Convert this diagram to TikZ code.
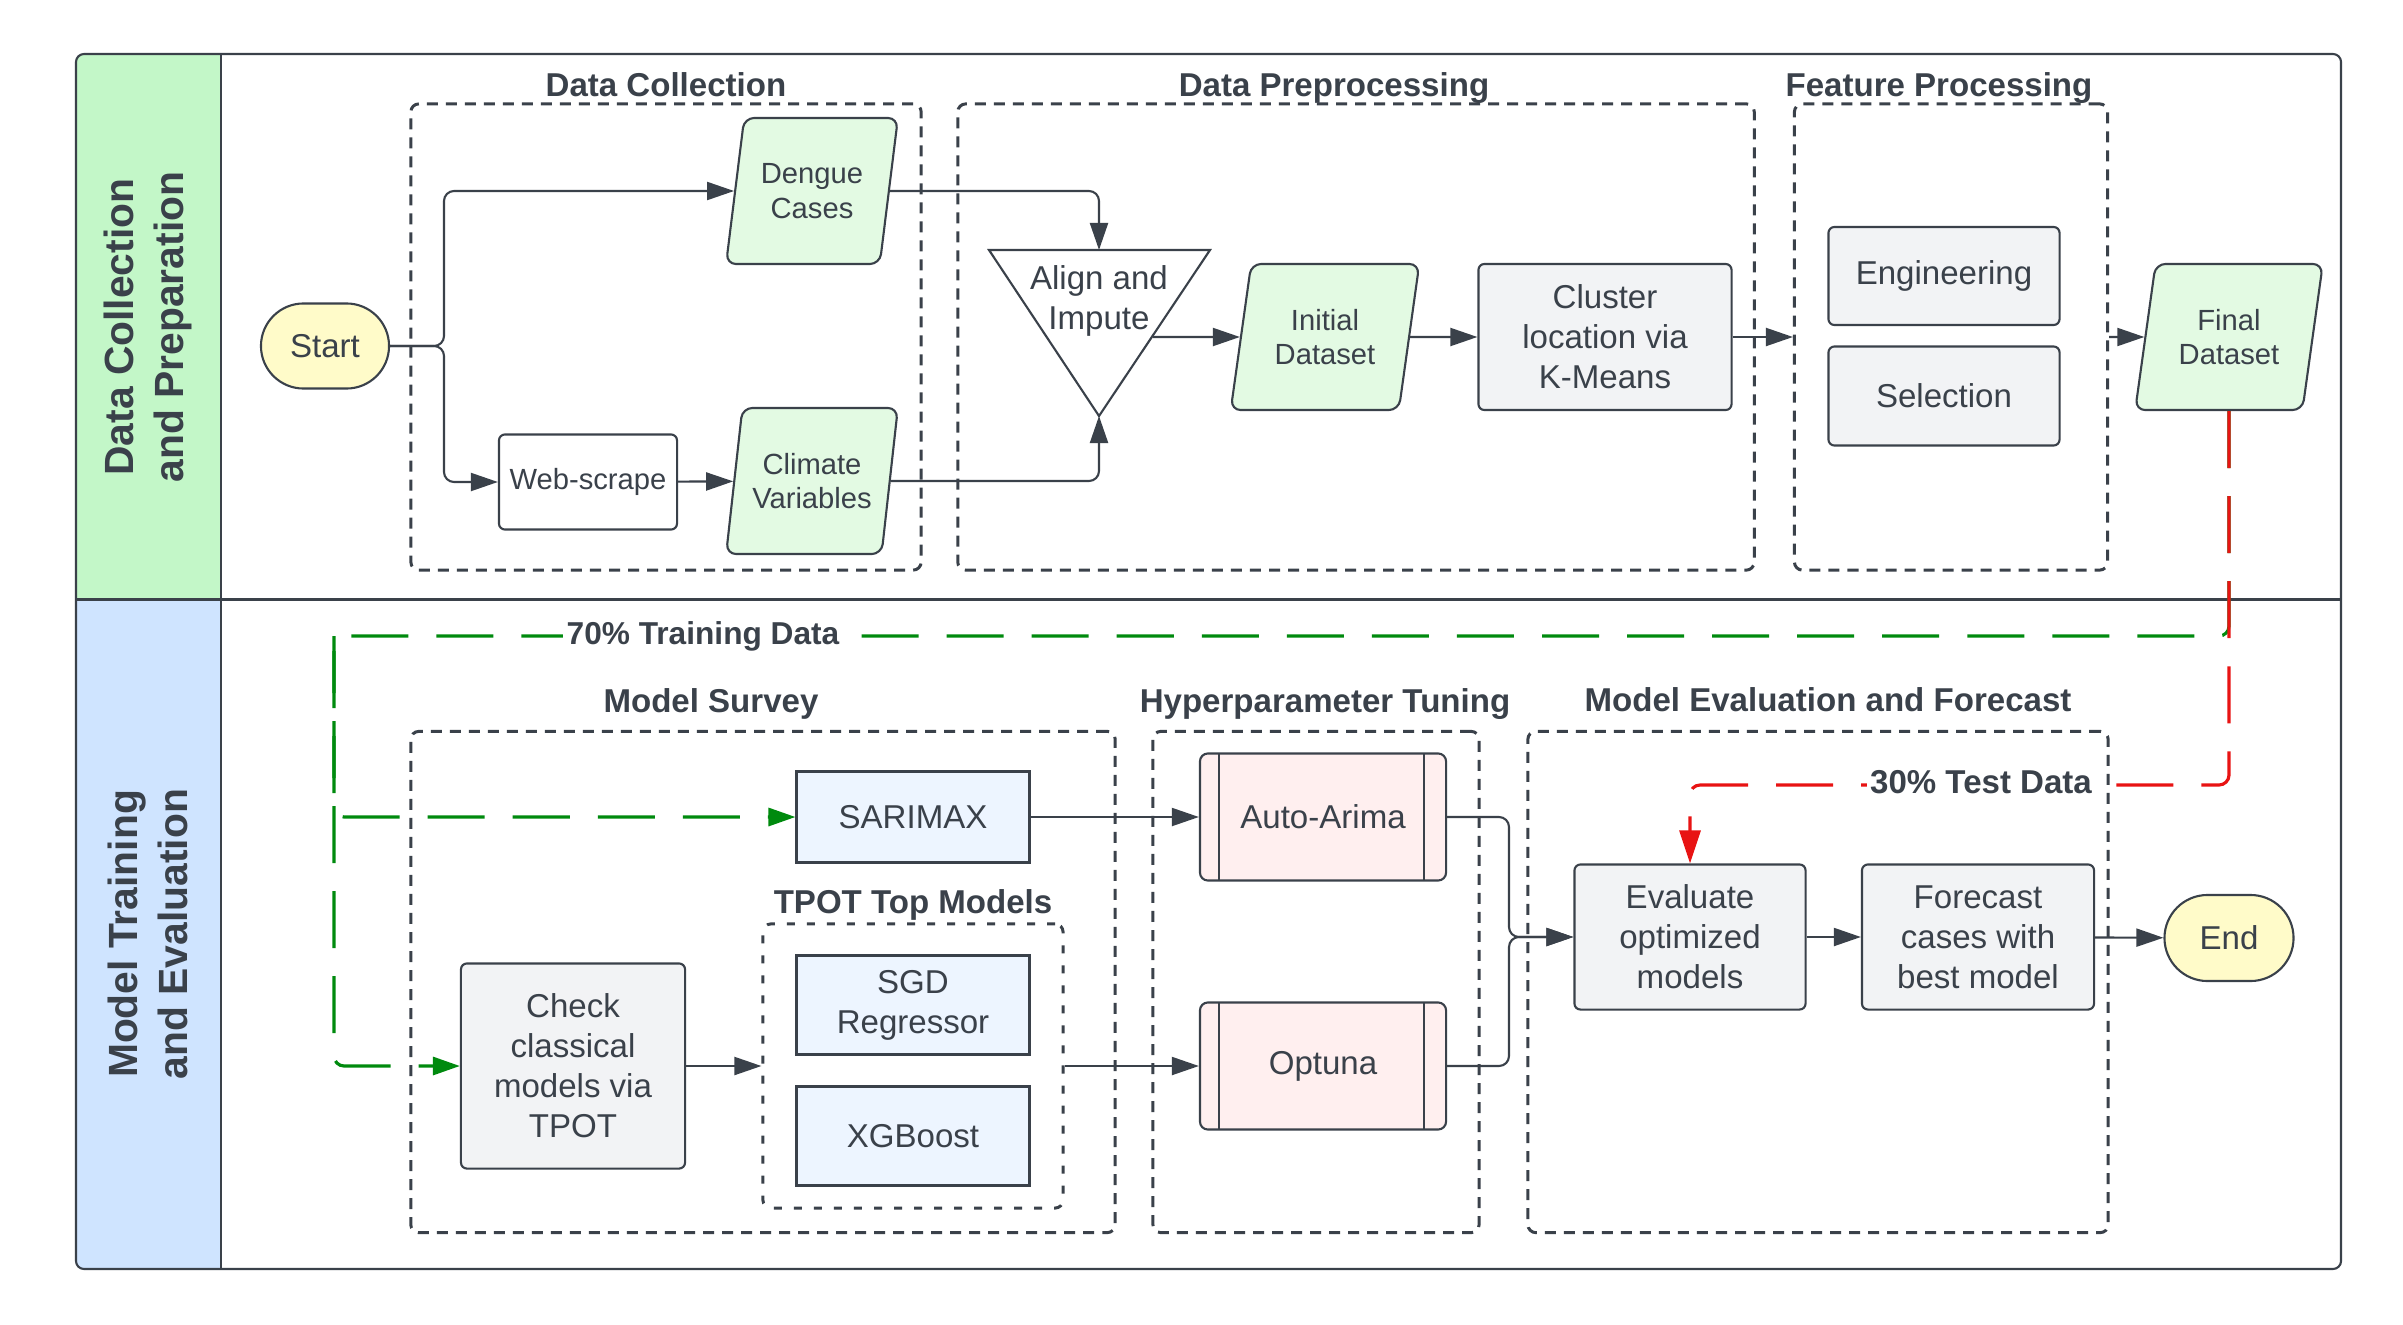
\documentclass[tikz,border=0pt]{standalone}
\usepackage{fontspec}
\setmainfont{Liberation Sans}
\usetikzlibrary{arrows.meta,shapes.geometric,shapes.misc}
\definecolor{ink}{HTML}{3A414A}
\definecolor{lanegreen}{HTML}{C3F7C8}
\definecolor{laneblue}{HTML}{CFE4FF}
\definecolor{datagreen}{HTML}{E3FAE3}
\definecolor{procgray}{HTML}{F2F3F5}
\definecolor{modelblue}{HTML}{EDF5FF}
\definecolor{tunepink}{HTML}{FFEFEF}
\definecolor{termyellow}{HTML}{FFFBC9}
\definecolor{trainline}{HTML}{008A0E}
\definecolor{testline}{HTML}{E81313}
\tikzset{>={Triangle[length=0.27cm,width=0.18cm]},
  every node/.style={text=ink},
  procbox/.style={draw=ink,line width=0.6pt,rounded corners=0.06cm,fill=procgray,
    align=center,inner sep=0pt,font=\fontsize{9.4}{11.4}\selectfont},
  dataset/.style={trapezium,trapezium left angle=76,trapezium right angle=104,
    trapezium stretches=true,draw=ink,line width=0.6pt,rounded corners=0.1cm,
    fill=datagreen,align=center,inner sep=0pt,minimum height=1.46cm,
    font=\fontsize{8.3}{9.8}\selectfont},
  modelbox/.style={procbox,rounded corners=0,fill=modelblue,line width=0.85pt,
    minimum width=2.32cm},
  tunebox/.style={procbox,rounded corners=0.08cm,fill=tunepink,minimum width=2.46cm,
    minimum height=1.27cm,
    path picture={\draw[ink,line width=0.6pt]
      ([xshift=0.19cm]path picture bounding box.north west) --
      ([xshift=0.19cm]path picture bounding box.south west)
      ([xshift=-0.22cm]path picture bounding box.north east) --
      ([xshift=-0.22cm]path picture bounding box.south east);}},
  terminal/.style={rounded rectangle,draw=ink,line width=0.6pt,fill=termyellow,
    minimum width=1.28cm,minimum height=0.85cm,inner sep=0pt,
    font=\fontsize{9.4}{11.4}\selectfont},
  stagebox/.style={draw=ink,line width=0.85pt,dash pattern=on 0.11cm off 0.08cm,
    rounded corners=0.08cm,inner sep=0pt},
  stagetitle/.style={anchor=base,font=\bfseries\fontsize{9.4}{11}\selectfont},
  lanetitle/.style={rotate=90,align=center,font=\bfseries\fontsize{11.6}{14}\selectfont},
  flow/.style={draw=ink,line width=0.6pt,->,rounded corners=0.1cm},
  splitline/.style={line width=0.9pt,dash pattern=on 0.57cm off 0.28cm,
    rounded corners=0.1cm},
}
\begin{document}
\begin{tikzpicture}[x=0.01cm,y=-0.01cm]
\useasboundingbox (0,0) rectangle (2403,1324);
% swimlanes
\begin{scope}
\clip[rounded corners=0.08cm] (76,54) rectangle (2341,1269);
\fill[lanegreen] (76,54) rectangle (221,599);
\fill[laneblue] (76,599) rectangle (221,1269);
\end{scope}
\draw[ink,line width=0.6pt,rounded corners=0.08cm] (76,54) rectangle (2341,1269);
\draw[ink,line width=0.6pt] (221,54) -- (221,1269);
\draw[ink,line width=0.85pt] (76,599) -- (2341,599);
\node[lanetitle] (prepLane) at (148,327) {Data Collection\\and Preparation};
\node[lanetitle] (modelLane) at (148,934) {Model Training\\and Evaluation};

% stages
\node[stagebox,minimum width=5.10cm,minimum height=4.66cm] (collectbox) at (666,337) {};
\node[stagebox,minimum width=7.96cm,minimum height=4.66cm] (prepbox) at (1356,337) {};
\node[stagebox,minimum width=3.13cm,minimum height=4.66cm] (featbox) at (1951,337) {};
\node[stagebox,minimum width=7.04cm,minimum height=5.01cm] (surveybox) at (763,982) {};
\node[stagebox,dash pattern=on 0.08cm off 0.12cm,minimum width=3.00cm,
  minimum height=2.84cm] (tpotbox) at (913,1066) {};
\node[stagebox,minimum width=3.26cm,minimum height=5.01cm] (tuningbox) at (1316,982) {};
\node[stagebox,minimum width=5.80cm,minimum height=5.01cm] (evalbox) at (1818,982) {};
\node[stagetitle] (collecttitle) at (666,96) {Data Collection};
\node[stagetitle] (preptitle) at (1334,96) {Data Preprocessing};
\node[stagetitle] (feattitle) at (1939,96) {Feature Processing};
\node[stagetitle] (surveytitle) at (711,712) {Model Survey};
\node[stagetitle] (tpottitle) at (913,913) {TPOT Top Models};
\node[stagetitle] (tuningtitle) at (1325,712) {Hyperparameter Tuning};
\node[stagetitle] (evaltitle) at (1828,711) {Model Evaluation and Forecast};

% data preparation
\node[terminal] (start) at (325,346) {Start};
\node[procbox,fill=white,minimum width=1.78cm,minimum height=0.95cm,
  font=\fontsize{8.3}{9.8}\selectfont] (web) at (588,482) {Web-scrape};
\node[dataset,minimum width=1.72cm] (dengue) at (812,191) {Dengue\\Cases};
\node[dataset,minimum width=1.72cm] (climate) at (812,481) {Climate\\Variables};
\draw[ink,line width=0.6pt,fill=white] (989,250) -- (1210,250) -- (1099,416) -- cycle;
\node[align=center,font=\fontsize{9.4}{11.4}\selectfont] (align) at (1099,301)
  {Align and\\Impute};
\coordinate (aligntop) at (1099,250);
\coordinate (aligntip) at (1099,416);
\coordinate (alignout) at (1153,337);
\node[dataset,minimum width=1.89cm] (initial) at (1325,337) {Initial\\Dataset};
\node[procbox,minimum width=2.53cm,minimum height=1.46cm] (cluster) at (1605,337)
  {Cluster\\location via\\K-Means};
\node[procbox,minimum width=2.31cm,minimum height=0.98cm] (engineering) at (1944,276)
  {Engineering};
\node[procbox,minimum width=2.31cm,minimum height=0.99cm] (selection) at (1944,396)
  {Selection};
\node[dataset,minimum width=1.88cm] (final) at (2229,337) {Final\\Dataset};

% model training
\node[modelbox,minimum height=0.91cm] (sarimax) at (913,817) {SARIMAX};
\node[modelbox,minimum height=0.99cm] (sgd) at (913,1005) {SGD\\Regressor};
\node[modelbox,minimum height=0.98cm] (xgboost) at (913,1136) {XGBoost};
\node[procbox,minimum width=2.24cm,minimum height=2.05cm] (check) at (573,1066)
  {Check\\classical\\models via\\TPOT};
\node[tunebox] (autoarima) at (1323,817) {Auto-Arima};
\node[tunebox] (optuna) at (1323,1066) {Optuna};
\node[procbox,minimum width=2.31cm,minimum height=1.45cm] (evaluate) at (1690,937)
  {Evaluate\\optimized\\models};
\node[procbox,minimum width=2.32cm,minimum height=1.45cm] (forecast) at (1978,937)
  {Forecast\\cases with\\best model};
\node[terminal,minimum width=1.29cm,minimum height=0.86cm] (end) at (2229,938) {End};

% connectors
\coordinate (fork) at (444,346);
\coordinate (merge) at (1509,937);
\draw[flow] (start) -- (fork) |- (dengue);
\draw[flow] (start) -- (fork) |- (web);
\draw[flow] (web) -- (climate);
\draw[flow] (dengue) -| (aligntop);
\draw[flow] (climate) -| (aligntip);
\draw[flow] (alignout) -- (initial);
\draw[flow] (initial) -- (cluster);
\draw[flow] (cluster) -- (featbox.west);
\draw[flow] (featbox.east) -- (final);
\draw[flow] (sarimax) -- (autoarima);
\draw[flow] (check) -- (tpotbox);
\draw[flow] (tpotbox) -- (optuna);
\draw[flow] (autoarima) -| (merge) -- (evaluate);
\draw[flow] (optuna) -| (merge) -- (evaluate);
\draw[flow] (evaluate) -- (forecast);
\draw[flow] (forecast) -- (end);

% train / test split
\coordinate (trainbend) at (334,636);
\coordinate (testbend) at (1690,785);
\draw[splitline,trainline,->] (final.south) |- (trainbend) |- (sarimax);
\draw[splitline,trainline,->] (trainbend) |- (check);
\draw[splitline,testline,-{Triangle[length=0.33cm,width=0.21cm]}]
  (final.south) |- (testbend) -- (evaluate);
\node[fill=white,inner sep=1pt,font=\bfseries\fontsize{9}{11}\selectfont] (trainlabel)
  at (703,636) {70\% Training Data};
\node[fill=white,inner sep=1pt,font=\bfseries\fontsize{9.4}{11}\selectfont] (testlabel)
  at (1981,782) {30\% Test Data};
\end{tikzpicture}
\end{document}
